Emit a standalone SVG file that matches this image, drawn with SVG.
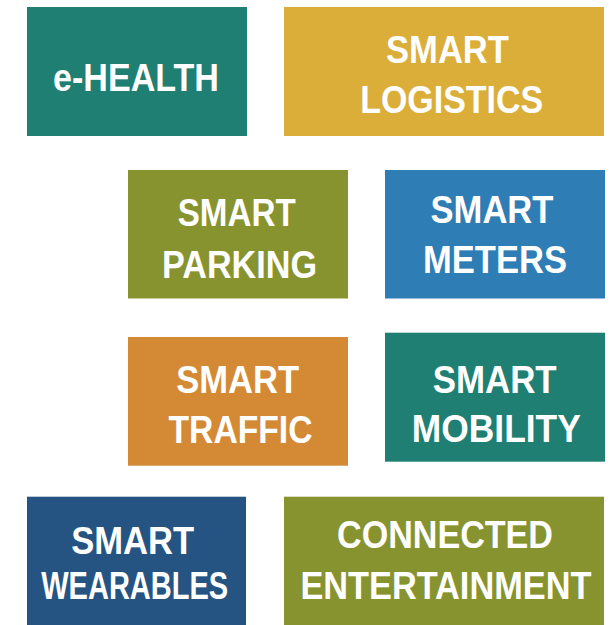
<svg xmlns="http://www.w3.org/2000/svg" width="613" height="625" viewBox="0 0 613 625">
<style>
.t{font-family:"Liberation Sans",Arial,sans-serif;font-weight:bold;font-size:38px;fill:#ffffff;text-anchor:middle}
</style>
<rect x="0" y="0" width="613" height="625" fill="#ffffff"/>
<g id="ehealth"><rect x="27" y="7" width="220" height="129" fill="#1f7f73"/><text class="t" x="136" y="90.7" textLength="166" lengthAdjust="spacingAndGlyphs">e-HEALTH</text></g>
<g id="logistics"><rect x="284" y="7" width="320" height="129" fill="#dbae3a"/><text class="t" x="447.5" y="63.3" textLength="123" lengthAdjust="spacingAndGlyphs">SMART</text><text class="t" x="451.7" y="113.3" textLength="183" lengthAdjust="spacingAndGlyphs">LOGISTICS</text></g>
<g id="parking"><rect x="128" y="170" width="220" height="128.5" fill="#87932f"/><text class="t" x="236.7" y="226" textLength="118" lengthAdjust="spacingAndGlyphs">SMART</text><text class="t" x="239.5" y="277.5" textLength="155" lengthAdjust="spacingAndGlyphs">PARKING</text></g>
<g id="meters"><rect x="385" y="170" width="220" height="128.5" fill="#2f7db5"/><text class="t" x="492" y="222.7" textLength="123" lengthAdjust="spacingAndGlyphs">SMART</text><text class="t" x="495" y="273.3" textLength="144" lengthAdjust="spacingAndGlyphs">METERS</text></g>
<g id="traffic"><rect x="128" y="337" width="220" height="128.7" fill="#d48935"/><text class="t" x="237.7" y="393.3" textLength="123" lengthAdjust="spacingAndGlyphs">SMART</text><text class="t" x="240.5" y="443.3" textLength="144" lengthAdjust="spacingAndGlyphs">TRAFFIC</text></g>
<g id="mobility"><rect x="385" y="332.7" width="220" height="129" fill="#1f7f73"/><text class="t" x="494.7" y="392.7" textLength="124" lengthAdjust="spacingAndGlyphs">SMART</text><text class="t" x="496.3" y="442.3" textLength="169" lengthAdjust="spacingAndGlyphs">MOBILITY</text></g>
<g id="wearables"><rect x="27" y="496.7" width="219" height="128.3" fill="#255483"/><text class="t" x="132.7" y="554" textLength="123" lengthAdjust="spacingAndGlyphs">SMART</text><text class="t" x="134.7" y="599" textLength="187" lengthAdjust="spacingAndGlyphs">WEARABLES</text></g>
<g id="entertainment"><rect x="284" y="496.7" width="320" height="128.3" fill="#87932f"/><text class="t" x="445" y="548.3" textLength="216" lengthAdjust="spacingAndGlyphs">CONNECTED</text><text class="t" x="445.9" y="599.3" textLength="291" lengthAdjust="spacingAndGlyphs">ENTERTAINMENT</text></g>
</svg>
